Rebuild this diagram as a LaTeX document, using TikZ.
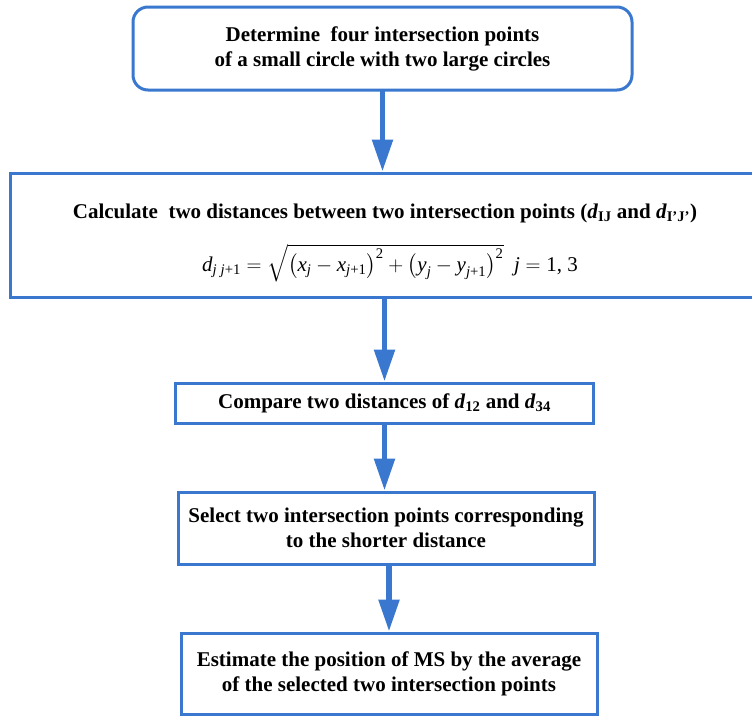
\documentclass[tikz,border=0pt]{standalone}
\usepackage{amsmath}
\usepackage{fontspec}
\setmainfont{Liberation Serif}
\usetikzlibrary{arrows.meta,calc}
\definecolor{flowblue}{HTML}{3A78D0}
\newcommand\mi[1]{\text{\normalfont\itshape #1}}
\newcommand\mr[1]{\text{\normalfont #1}}
\begin{document}
\begin{tikzpicture}[x=1pt,y=-1pt,
  box/.style={draw=flowblue, line width=3pt, inner sep=0pt, align=center,
    font=\fontsize{21}{25}\selectfont\bfseries},
  label/.style={inner sep=0pt, align=center, font=\fontsize{21}{25}\selectfont\bfseries},
  flow/.style={draw=flowblue, line width=5.5pt,
    -{Triangle[width=20pt,length=32pt]}, shorten <=-1pt}]
\useasboundingbox (0,0) rectangle (752,716);
% process boxes
\node[box, rounded corners=15pt, minimum width=499pt, minimum height=83pt] (b1) at (382.5,48.5)
  {Determine\ \ four intersection points\\of a small circle with two large circles};
\node[box, minimum width=770pt, minimum height=124pt] (b2) at (395,235) {};
\node[label] (t2) at (385,213)
  {Calculate\ \ two distances between two intersection points (\textit{d}\textsubscript{IJ} and \textit{d}\textsubscript{I'J'})};
\node[inner sep=0pt, font=\fontsize{21}{25}\selectfont] (f2) at (390,263)
  {$\mi{d}_{\mi{j}\;\mi{j}\mr{+1}}=\sqrt{\bigl(\mi{x}_{\mi{j}}-\mi{x}_{\mi{j}\mr{+1}}\bigr)^{\mr{2}}+\bigl(\mi{y}_{\mi{j}}-\mi{y}_{\mi{j}\mr{+1}}\bigr)^{\mr{2}}}\ \ \mi{j}=\mr{1,\ 3}$};
\node[box, minimum width=418pt, minimum height=40pt] (b3) at (384.5,403)
  {Compare two distances of \textit{d}\textsubscript{12} and \textit{d}\textsubscript{34}};
\node[box, minimum width=416pt, minimum height=72pt] (b4) at (386,528)
  {Select two intersection points corresponding\\to the shorter distance};
\node[box, minimum width=416pt, minimum height=81pt] (b5) at (389,673.5)
  {Estimate the position of MS by the average\\of the selected two intersection points};
% connectors
\draw[flow] (b1.south) -- (b1.south |- b2.north);
\draw[flow] (b3.north |- b2.south) -- (b3.north);
\draw[flow] (b3.south) -- (b3.south |- b4.north);
\draw[flow] (b5.north |- b4.south) -- (b5.north);
\end{tikzpicture}
\end{document}
